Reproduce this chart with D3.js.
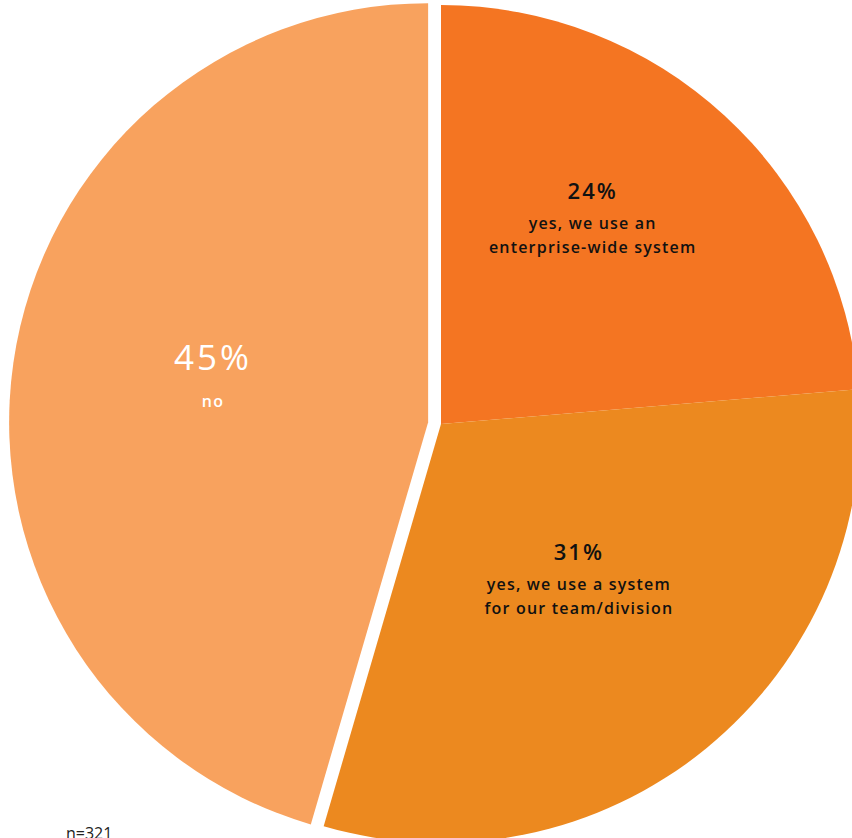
<!DOCTYPE html>
<head>
<style>
body { margin: 0; background: #fff; }
.slice-label { font-family: "Open Sans", sans-serif; text-anchor: middle; }
.desc { font-weight: 600; font-size: 16px; letter-spacing: 1.2px; }
.note { font-family: "Open Sans", sans-serif; font-size: 16px; fill: #222; }
</style>
<script src="https://d3js.org/d3.v7.min.js"></script>
</head>
<body>
<svg width="852" height="838"></svg>
<script>
// data (respondent counts, n = 321)
var answers = ["yes, we use an enterprise-wide system", "yes, we use a system for our team/division", "no"];
var counts = [76, 99, 146];
var labelLines = [["yes, we use an", "enterprise-wide system"], ["yes, we use a system", "for our team/division"], ["no"]];
var sampleNote = "n=321";

// look
var colors = ["#f47522", "#ec891f", "#f8a25e"];
var textColors = ["#111", "#111", "#fff"];
var pctSize = [22, 22, 35];
var explode = [0, 0, 13];
// label anchor: radius, angle in degrees from 12 o'clock
var labelAt = [[252, 37], [211, 139.2], [220, 282]];

var svg = d3.select("svg"),
    cx = 441, cy = 424, radius = 419;

var total = d3.sum(counts);
var pie = d3.pie().sort(null).value(function(d) { return d; });
var arc = d3.arc().innerRadius(0).outerRadius(radius);
var arcs = pie(counts);

var g = svg.append("g").attr("transform", "translate(" + cx + "," + cy + ")");

var slices = g.selectAll("g.slice")
  .data(arcs)
  .enter().append("g")
    .attr("class", "slice")
    .attr("transform", function(d, i) {
      var mid = (d.startAngle + d.endAngle) / 2;
      return "translate(" + (Math.sin(mid) * explode[i]) + "," + (-Math.cos(mid) * explode[i]) + ")";
    });

slices.append("path")
    .attr("d", arc)
    .attr("fill", function(d, i) { return colors[i]; });

slices.each(function(d, i) {
  var a = labelAt[i][1] * Math.PI / 180,
      x = Math.sin(a) * labelAt[i][0],
      y = -Math.cos(a) * labelAt[i][0];
  var big = pctSize[i] > 30;
  var t = d3.select(this).append("text")
      .attr("class", "slice-label")
      .attr("fill", textColors[i])
      .attr("transform", "translate(" + x + "," + y + ")");
  t.append("tspan")
      .attr("x", 0)
      .attr("y", big ? -6 : -24)
      .attr("font-size", pctSize[i])
      .attr("font-weight", big ? 500 : 600)
      .attr("letter-spacing", big ? 3 : 2)
      .text(Math.round(d.data / total * 100) + "%");
  labelLines[i].forEach(function(line, j) {
    t.append("tspan")
      .attr("class", "desc")
      .attr("x", 0)
      .attr("y", (big ? 31 : 6) + j * 24)
      .text(line);
  });
});

svg.append("text")
    .attr("class", "note")
    .attr("x", 66)
    .attr("y", 839)
    .text(sampleNote);
</script>
</body>
